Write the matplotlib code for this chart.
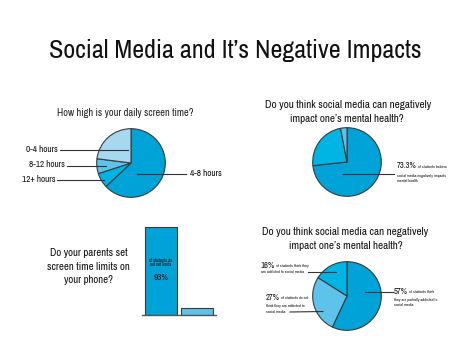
import matplotlib
matplotlib.use("Agg")
import matplotlib.pyplot as plt
from matplotlib import font_manager

# prefer a condensed sans face if one is installed
names = sorted({f.name for f in font_manager.fontManager.ttflist})
cond = [n for n in names if ('Narrow' in n or 'Condensed' in n) and 'Mono' not in n and 'Serif' not in n]
family = ([cond[0]] if cond else []) + ['Liberation Sans', 'DejaVu Sans']
plt.rcParams['font.family'] = family

W, H = 475, 340
DPI = 100

# ---- data ----
title = "Social Media and It\u2019s Negative Impacts"

screen_labels = ["4-8 hours", "12+ hours", "8-12 hours", "0-4 hours"]
screen_values = [63, 7, 7, 23]

mental_labels = ["believe negative", "no", "unsure"]
mental_values = [73.3, 23.7, 3.0]

addicted_labels = ["partially addicted", "not addicted", "addicted"]
addicted_values = [57, 27, 16]

limits_labels = ["no limits", "limits"]
limits_values = [93, 7]

DARK = '#00A3D7'
MED = '#00B4E4'
LIGHT = '#5EC3EA'
PALE = '#A6D8EF'
EDGE = '#3a3a3a'

fig = plt.figure(figsize=(W / DPI, H / DPI), dpi=DPI)
fig.patch.set_facecolor('white')
renderer = fig.canvas.get_renderer()


def px_axes(x0, y0, w, h):
    return fig.add_axes([x0 / W, 1 - (y0 + h) / H, w / W, h / H])


def pie_at(cx, cy, r, values, colors):
    ax = px_axes(cx - r, cy - r, 2 * r, 2 * r)
    ax.pie(values, colors=colors, startangle=90, counterclock=False, radius=1,
           wedgeprops=dict(edgecolor=EDGE, linewidth=0.8))
    ax.set_xlim(-1.02, 1.02)
    ax.set_ylim(-1.02, 1.02)
    ax.set_aspect('equal')
    ax.axis('off')
    return ax


pie_at(131, 163, 35, screen_values, [DARK, MED, LIGHT, PALE])
pie_at(347, 162, 35, mental_values, [DARK, MED, LIGHT])
pie_at(347, 296, 35, addicted_values, [DARK, LIGHT, MED])

# bar chart
bax = px_axes(142, 220.4, 74, 94.6)
bax.bar([0, 1], limits_values, width=0.889, color=[DARK, LIGHT],
        edgecolor=EDGE, linewidth=0.8)
bax.set_xlim(-0.528, 1.528)
bax.set_ylim(0, 100)
for s in ['top', 'left', 'right']:
    bax.spines[s].set_visible(False)
bax.spines['bottom'].set_color('#555555')
bax.spines['bottom'].set_linewidth(1.0)
bax.set_xticks([])
bax.set_yticks([])
bax.patch.set_alpha(0)

# overlay for text and leader lines (pixel coordinates, top-left origin)
ov = fig.add_axes([0, 0, 1, 1])
ov.set_xlim(0, W)
ov.set_ylim(H, 0)
ov.axis('off')
ov.patch.set_alpha(0)


def size_for(s, target_w):
    t = ov.text(0, 0, s, fontsize=10)
    w = t.get_window_extent(renderer).width
    t.remove()
    return 10 * target_w / w


def txt(x, y, s, size, ha='left', color='#111111'):
    return ov.text(x, y, s, ha=ha, va='center', fontsize=size, color=color)


def right_of(t):
    return t.get_window_extent(renderer).x1


# title
txt(235, 50, title, size_for(title, 374), ha='center')

# section headings
s1 = size_for("How high is your daily screen time?", 137)
txt(125.5, 113, "How high is your daily screen time?", s1, ha='center', color='#222222')

q1 = "Do you think social media can negatively"
q2 = "impact one\u2019s mental health?"
sq = size_for(q1, 167)
txt(348, 105, q1, sq, ha='center')
txt(347, 119, q2, sq, ha='center')
txt(345.5, 232, q1, sq, ha='center')
txt(346, 246, q2, sq, ha='center')

sb = size_for("screen time limits on", 83)
for i, line in enumerate(["Do your parents set", "screen time limits on", "your phone?"]):
    txt(88.5, 253 + 13.5 * i, line, sb, ha='center')

# pie 1 labels
lw = 0.8
lc = '#333333'
sl = size_for("8-12 hours", 36)
ov.plot([60, 128], [150, 150], color=lc, lw=lw)
txt(58, 149, "0-4 hours", sl, ha='right')
ov.plot([67, 106], [166, 166], color=lc, lw=lw)
txt(65, 164.5, "8-12 hours", sl, ha='right')
ov.plot([57, 104], [180, 180], color=lc, lw=lw)
txt(55, 179, "12+ hours", sl, ha='right')
ov.plot([137, 186], [174, 174], color=lc, lw=lw)
txt(190, 174, "4-8 hours", sl, ha='left')

# small annotation sizes
ss = size_for("social media negatively impacts", 50)
sp = size_for("73.3%", 20)
sp2 = size_for("57%", 14)

# pie 2 annotation
ov.plot([343, 394], [174, 174], color=lc, lw=lw)
t = txt(397, 166, "73.3%", sp)
txt(right_of(t) + 1, 167, "of students believe", ss)
txt(397, 175.5, "social media negatively impacts", ss)
txt(397, 181.5, "mental health", ss)

# pie 3 annotations
t = txt(261, 265, "16%", sp2)
txt(right_of(t) + 1, 266, "of students think they", ss)
txt(261, 272, "are addicted to social media", ss)
ov.plot([308, 336], [271.5, 271.5], color=lc, lw=lw)

t = txt(266, 297, "27%", sp2)
txt(right_of(t) + 1, 298, "of students do not", ss)
txt(266, 306, "think they are addicted to", ss)
txt(266, 312, "social media", ss)
ov.plot([290, 323], [312, 311.5], color=lc, lw=lw)

ov.plot([365, 393], [292, 292], color=lc, lw=lw)
t = txt(394, 291, "57%", sp2)
txt(right_of(t) + 1, 292, "of students think", ss)
txt(394, 299.5, "they are partially addicted to", ss)
txt(394, 305.5, "social media", ss)

# bar annotation
sbs = size_for("of students do", 24)
txt(161, 260, "of students do", sbs, ha='center')
txt(161, 265, "not set limits", sbs, ha='center')
txt(161, 277, "93%", size_for("93%", 15), ha='center')

fig.savefig("out.png", dpi=DPI, facecolor='white')
